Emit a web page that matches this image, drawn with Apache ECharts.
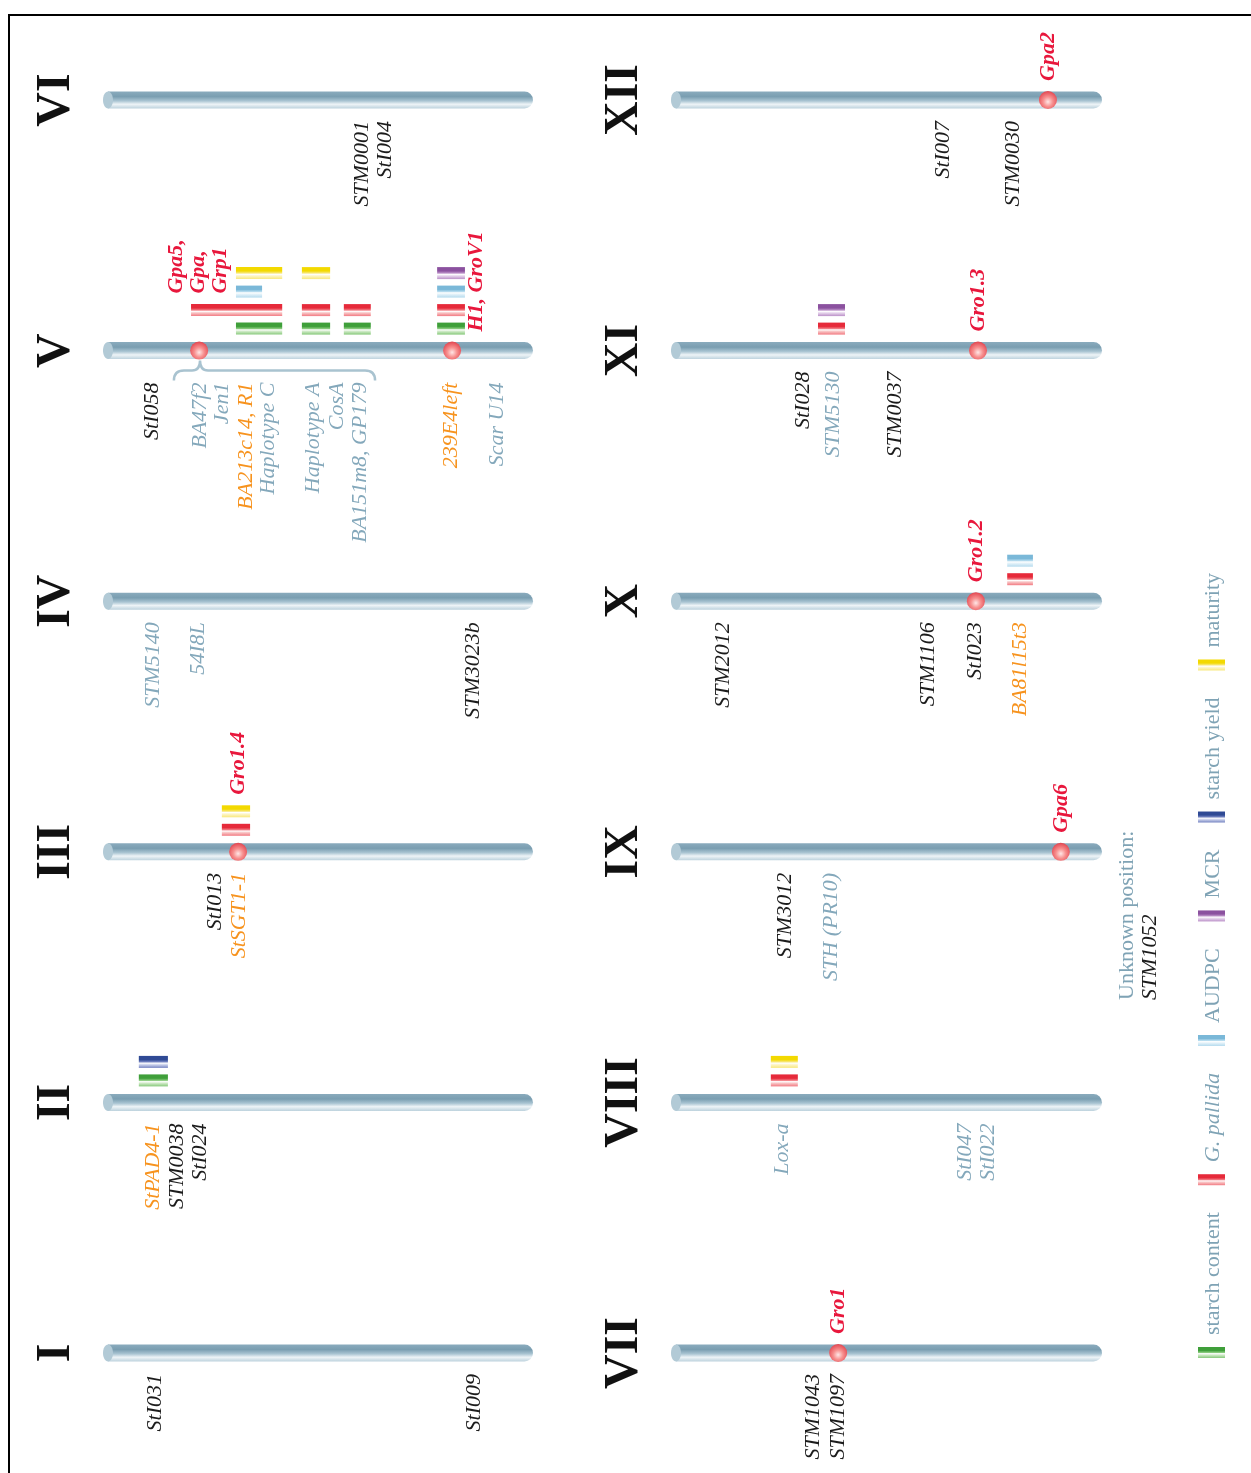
<!DOCTYPE html>
<html>
<head>
<meta charset="utf-8">
<title>Potato chromosome map</title>
<script src="https://cdn.jsdelivr.net/npm/echarts@6/dist/echarts.min.js"></script>
<style>
  html, body { margin: 0; padding: 0; background: #fff; }
  #chart { width: 1251px; height: 1473px; }
</style>
</head>
<body>
<div id="chart"></div>
<script>
// chromosomes, top to bottom in each column
const leftChromosomes = ['VI', 'V', 'IV', 'III', 'II', 'I'];
const rightChromosomes = ['XII', 'XI', 'X', 'IX', 'VIII', 'VII'];
const chromosomeSpan = [0, 100];

const traits = ['starch content', 'G. pallida', 'AUDPC', 'MCR', 'starch yield', 'maturity'];

// [chromosome, position, name, marker class]
const markers = [
  ['VI', 60.0, 'STM0001', 'SSR'],
  ['VI', 65.4, 'StI004', 'SSR'],
  ['V', 11.0, 'StI058', 'SSR'],
  ['V', 22.2, 'BA47f2', 'locus'],
  ['V', 27.3, 'Jen1', 'locus'],
  ['V', 32.9, 'BA213c14, R1', 'candidate'],
  ['V', 38.1, 'Haplotype C', 'locus'],
  ['V', 48.6, 'Haplotype A', 'locus'],
  ['V', 54.2, 'CosA', 'locus'],
  ['V', 59.6, 'BA151m8, GP179', 'locus'],
  ['V', 80.8, '239E4left', 'candidate'],
  ['V', 91.6, 'Scar U14', 'locus'],
  ['IV', 11.2, 'STM5140', 'locus'],
  ['IV', 21.7, '54I8L', 'locus'],
  ['IV', 86.0, 'STM3023b', 'SSR'],
  ['III', 25.7, 'StI013', 'SSR'],
  ['III', 31.3, 'StSGT1-1', 'candidate'],
  ['II', 11.2, 'StPAD4-1', 'candidate'],
  ['II', 16.8, 'STM0038', 'SSR'],
  ['II', 22.2, 'StI024', 'SSR'],
  ['I', 11.7, 'StI031', 'SSR'],
  ['I', 86.2, 'StI009', 'SSR'],
  ['XII', 62.9, 'StI007', 'SSR'],
  ['XII', 79.3, 'STM0030', 'SSR'],
  ['XI', 30.3, 'StI028', 'SSR'],
  ['XI', 37.3, 'STM5130', 'locus'],
  ['XI', 51.7, 'STM0037', 'SSR'],
  ['X', 11.7, 'STM2012', 'SSR'],
  ['X', 59.4, 'STM1106', 'SSR'],
  ['X', 70.4, 'StI023', 'SSR'],
  ['X', 80.9, 'BA81l15t3', 'candidate'],
  ['IX', 26.1, 'STM3012', 'SSR'],
  ['IX', 36.8, 'STH (PR10)', 'locus'],
  ['VIII', 25.4, 'Lox-a', 'locus'],
  ['VIII', 68.1, 'StI047', 'locus'],
  ['VIII', 73.4, 'StI022', 'locus'],
  ['VII', 32.6, 'STM1043', 'SSR'],
  ['VII', 38.5, 'STM1097', 'SSR']
];

// resistance loci (red dots): [chromosome, position]
const resistanceLoci = [
  ['V', 22.0], ['V', 81.1], ['III', 31.1],
  ['XII', 87.4], ['XI', 71.1], ['X', 70.6], ['IX', 90.4], ['VII', 38.5]
];

// [chromosome, position, name, QTL rows underneath]
const locusNames = [
  ['V', 21.7, 'Gpa5,\nGpa,\nGrp1', 2],
  ['V', 86.7, 'H1, GroV1', 0],
  ['III', 31.1, 'Gro1.4', 2],
  ['XII', 87.4, 'Gpa2', 0],
  ['XI', 71.1, 'Gro1.3', 0],
  ['X', 70.6, 'Gro1.2', 0],
  ['IX', 90.4, 'Gpa6', 0],
  ['VII', 38.5, 'Gro1', 0]
];

// QTL: [chromosome, start, end, trait, row]
const qtls = [
  ['V', 30.6, 41.4, 'starch content', 1],
  ['V', 20.1, 41.4, 'G. pallida', 2],
  ['V', 30.6, 36.7, 'AUDPC', 3],
  ['V', 30.6, 41.4, 'maturity', 4],
  ['V', 46.0, 52.6, 'starch content', 1],
  ['V', 46.0, 52.6, 'G. pallida', 2],
  ['V', 46.0, 52.6, 'maturity', 4],
  ['V', 55.8, 62.1, 'starch content', 1],
  ['V', 55.8, 62.1, 'G. pallida', 2],
  ['V', 77.6, 84.1, 'starch content', 1],
  ['V', 77.6, 84.1, 'G. pallida', 2],
  ['V', 77.6, 84.1, 'AUDPC', 3],
  ['V', 77.6, 84.1, 'MCR', 4],
  ['III', 27.3, 33.9, 'G. pallida', 1],
  ['III', 27.3, 33.9, 'maturity', 2],
  ['II', 7.9, 14.7, 'starch content', 1],
  ['II', 7.9, 14.7, 'starch yield', 2],
  ['XI', 33.8, 40.1, 'G. pallida', 1],
  ['XI', 33.8, 40.1, 'MCR', 2],
  ['X', 77.9, 83.9, 'G. pallida', 1],
  ['X', 77.9, 83.9, 'AUDPC', 2],
  ['VIII', 22.8, 29.1, 'G. pallida', 1],
  ['VIII', 22.8, 29.1, 'maturity', 2]
];

// resistance cluster brace: [chromosome, start, point, end]
const braces = [['V', 16.1, 22.2, 63.1]];

const unplacedMarkers = ['STM1052'];

// ---- styles ----
const serif = '"Liberation Serif", "Times New Roman", serif';
const labelFont = 'italic 22px ' + serif;
const markerColors = { SSR: '#1c1c1c', locus: '#84a8bb', candidate: '#f7931e' };
const locusRed = '#e8173c';
const traitColors = {
  'starch content': ['#3f9f3a', '#86c97a', '#d2ebca'],
  'G. pallida': ['#e62a3a', '#f27a82', '#f9c9c9'],
  'AUDPC': ['#7ab8d8', '#b5dbee', '#e4f2f9'],
  'MCR': ['#8b519f', '#bb90c8', '#e8d8ee'],
  'starch yield': ['#2f4a95', '#7584c2', '#d0d6ee'],
  'maturity': ['#f3d900', '#f8e87c', '#fdf6cc']
};

function stripe(c) {
  return new echarts.graphic.LinearGradient(0, 0, 0, 1, [
    { offset: 0, color: c[0] }, { offset: 0.32, color: c[0] },
    { offset: 0.5, color: c[1] }, { offset: 0.6, color: '#ffffff' },
    { offset: 0.72, color: c[2] }, { offset: 1, color: c[1] }
  ]);
}

const chromosomeFill = new echarts.graphic.LinearGradient(0, 0, 0, 1, [
  { offset: 0, color: '#8aabbd' }, { offset: 0.3, color: '#7a9eb1' },
  { offset: 0.55, color: '#a9c4d2' }, { offset: 0.75, color: '#eef4f7' },
  { offset: 1, color: '#bdd2dd' }
]);
const locusFill = new echarts.graphic.RadialGradient(0.5, 0.6, 0.6, [
  { offset: 0, color: '#ffe6e6' }, { offset: 0.45, color: '#f7908f' },
  { offset: 1, color: '#e2454f' }
]);

function gridOf(chr) { return leftChromosomes.indexOf(chr) >= 0 ? 0 : 1; }

function textEl(x, y, text, color, font, align) {
  return {
    type: 'text', x: x, y: y, rotation: Math.PI / 2,
    style: {
      text: text, fill: color, font: font, lineHeight: 22,
      align: align, textAlign: align, verticalAlign: 'middle', textVerticalAlign: 'middle'
    }
  };
}

// ---- renderers ----
function drawChromosome(d, api) {
  const a = api.coord([api.value(0), api.value(1)]);
  const b = api.coord([api.value(2), api.value(1)]);
  const h = 17;
  return {
    type: 'group', children: [
      { type: 'rect', shape: { x: a[0] + 3, y: a[1] - h / 2, width: b[0] - a[0] - 3, height: h, r: [0, h / 2, h / 2, 0] },
        style: { fill: chromosomeFill } },
      { type: 'ellipse', shape: { cx: a[0] + 3, cy: a[1], rx: 5, ry: h / 2 }, style: { fill: '#b2cad6' } }
    ]
  };
}

function drawQtl(d, api) {
  const a = api.coord([api.value(0), api.value(1)]);
  const b = api.coord([api.value(2), api.value(1)]);
  const cy = a[1] - 22 - (api.value(3) - 1) * 18.5;
  return { type: 'rect', shape: { x: a[0], y: cy - 6, width: b[0] - a[0], height: 12 }, style: { fill: stripe(traitColors[d[3]]) } };
}

function drawLocus(d, api) {
  const p = api.coord([api.value(0), api.value(1)]);
  return { type: 'circle', shape: { cx: p[0], cy: p[1], r: 9 }, style: { fill: locusFill } };
}

function drawMarker(d, api) {
  const p = api.coord([api.value(0), api.value(1)]);
  const gap = d[0] === 'V' ? 32 : 21;
  return textEl(p[0], p[1] + gap, d[2], markerColors[d[3]], labelFont, 'right');
}

function drawLocusName(d, api) {
  const p = api.coord([api.value(0), api.value(1)]);
  return textEl(p[0], p[1] - (19 + d[3] * 19), d[2], locusRed, 'italic bold 22px ' + serif, 'left');
}

function drawBrace(d, api) {
  const x0 = api.coord([api.value(0), api.value(1)])[0];
  const xc = api.coord([api.value(2), api.value(1)])[0];
  const p1 = api.coord([api.value(3), api.value(1)]);
  const x1 = p1[0], y = p1[1];
  const top = y + 10, mid = y + 20, bot = y + 30;
  const path = 'M' + x0 + ',' + bot + ' Q' + x0 + ',' + mid + ' ' + (x0 + 10) + ',' + mid +
    ' L' + (xc - 8) + ',' + mid + ' Q' + xc + ',' + mid + ' ' + xc + ',' + top +
    ' Q' + xc + ',' + mid + ' ' + (xc + 8) + ',' + mid +
    ' L' + (x1 - 10) + ',' + mid + ' Q' + x1 + ',' + mid + ' ' + x1 + ',' + bot;
  return { type: 'path', shape: { pathData: path }, style: { fill: null, stroke: '#a9c3d0', lineWidth: 2.5 } };
}

function layer(list, g, render, toValue, z) {
  const items = list.filter(d => gridOf(d[0]) === g);
  return {
    type: 'custom', coordinateSystem: 'cartesian2d', xAxisIndex: g, yAxisIndex: g,
    clip: false, silent: true, z: z, animation: false,
    data: items.map(toValue),
    renderItem: (params, api) => render(items[params.dataIndex], api)
  };
}

const series = [];
[0, 1].forEach(g => {
  const chroms = (g === 0 ? leftChromosomes : rightChromosomes).map(c => [c]);
  series.push(layer(chroms, g, drawChromosome, d => [chromosomeSpan[0], d[0], chromosomeSpan[1]], 2));
  series.push(layer(qtls, g, drawQtl, d => [d[1], d[0], d[2], d[4]], 3));
  series.push(layer(braces, g, drawBrace, d => [d[1], d[0], d[2], d[3]], 3));
  series.push(layer(resistanceLoci, g, drawLocus, d => [d[1], d[0]], 4));
  series.push(layer(markers, g, drawMarker, d => [d[1], d[0]], 5));
  series.push(layer(locusNames, g, drawLocusName, d => [d[1], d[0]], 5));
});

// ---- legend (rotated, bottom to top) ----
const measureCtx = document.createElement('canvas').getContext('2d');
function textWidth(t, font) { measureCtx.font = font; return measureCtx.measureText(t).width; }

const graphics = [
  { type: 'polyline', shape: { points: [[9, 1473], [9, 15], [1251, 15]] }, style: { stroke: '#000', lineWidth: 2, fill: null } }
];
let cursor = 1358;
traits.forEach(t => {
  graphics.push({ type: 'rect', shape: { x: 1198, y: cursor - 11, width: 27, height: 11 }, style: { fill: stripe(traitColors[t]) } });
  cursor -= 11 + 12;
  const font = (t === 'G. pallida' ? 'italic ' : '') + '22px ' + serif;
  graphics.push(textEl(1213, cursor, t, '#7fa3b5', font, 'left'));
  cursor -= textWidth(t, font) + 27;
});
graphics.push(textEl(1127, 1000, 'Unknown position:', '#7fa3b5', '22px ' + serif, 'left'));
graphics.push(textEl(1150, 1000, unplacedMarkers.join(', '), '#1c1c1c', labelFont, 'left'));

const numeralAxis = {
  type: 'category', boundaryGap: false, inverse: true,
  axisLine: { show: false }, axisTick: { show: false }, splitLine: { show: false },
  axisLabel: {
    interval: 0, rotate: 90, margin: 48, align: 'center', verticalAlign: 'middle',
    fontSize: 48, fontWeight: 'bold', fontFamily: serif, color: '#111'
  }
};

const chart = echarts.init(document.getElementById('chart'), null, { renderer: 'canvas' });
chart.setOption({
  animation: false,
  grid: [
    { left: 105, width: 428, top: 100, height: 1253, outerBoundsMode: 'none' },
    { left: 673, width: 429, top: 100, height: 1253, outerBoundsMode: 'none' }
  ],
  xAxis: [
    { gridIndex: 0, type: 'value', min: 0, max: 100, show: false },
    { gridIndex: 1, type: 'value', min: 0, max: 100, show: false }
  ],
  yAxis: [
    Object.assign({ gridIndex: 0, data: leftChromosomes }, numeralAxis),
    Object.assign({ gridIndex: 1, data: rightChromosomes }, numeralAxis)
  ],
  graphic: graphics,
  series: series
});
</script>
</body>
</html>
